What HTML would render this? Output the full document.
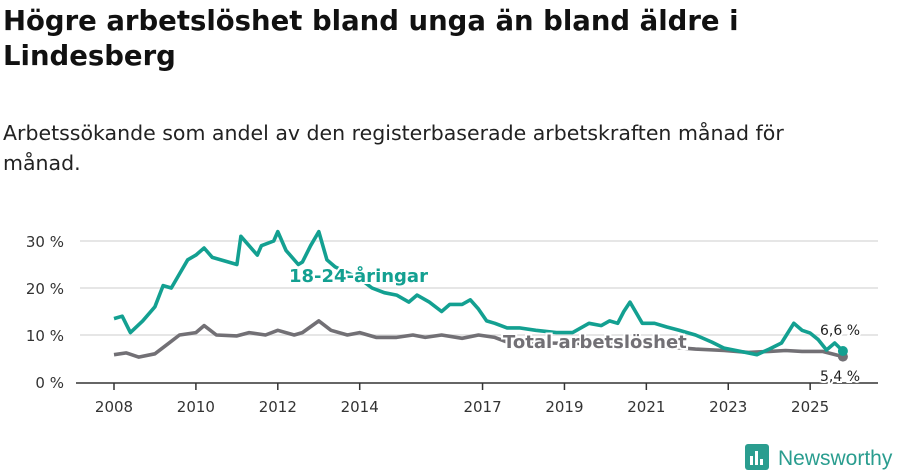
<!DOCTYPE html>
<html><head><meta charset="utf-8"><style>
body{margin:0;width:900px;height:474px;background:#fff;font-family:"Liberation Sans","DejaVu Sans",sans-serif;overflow:hidden;position:relative}
h1{position:absolute;left:3px;top:4px;margin:0;font-size:27.5px;line-height:35px;font-weight:bold;color:#111;width:760px;font-family:"DejaVu Sans",sans-serif}
p{position:absolute;left:3px;top:118px;margin:0;font-size:20.5px;line-height:30px;color:#222;width:830px;font-family:"DejaVu Sans",sans-serif}
svg{position:absolute;left:0;top:0}
</style></head><body>
<h1>Högre arbetslöshet bland unga än bland äldre i Lindesberg</h1>
<p>Arbetssökande som andel av den registerbaserade arbetskraften månad för månad.</p>
<svg id="c" width="900" height="474"></svg>
<script>
const yTicks=[0,10,20,30];
const xTicks=[2008,2010,2012,2014,2017,2019,2021,2023,2025];
const youthDates=[2008.0,2008.2,2008.4,2008.7,2009.0,2009.2,2009.4,2009.6,2009.8,2010.0,2010.2,2010.4,2010.8,2011.0,2011.1,2011.5,2011.6,2011.9,2012.0,2012.2,2012.5,2012.6,2012.8,2013.0,2013.2,2013.4,2014.0,2014.3,2014.6,2014.9,2015.2,2015.4,2015.7,2016.0,2016.2,2016.5,2016.7,2016.9,2017.1,2017.3,2017.6,2017.9,2018.3,2018.8,2019.2,2019.6,2019.9,2020.1,2020.3,2020.45,2020.6,2020.9,2021.2,2021.5,2021.8,2022.2,2022.6,2022.9,2023.3,2023.7,2024.0,2024.3,2024.6,2024.8,2025.0,2025.2,2025.4,2025.6,2025.8];
const youthValues=[13.5,14,10.5,13,16,20.5,20,23,26,27,28.5,26.5,25.5,25,31,27,29,30,32,28,25,25.5,29,32,26,24.5,22,20,19,18.5,17,18.5,17,15,16.5,16.5,17.5,15.5,13,12.5,11.5,11.5,11,10.5,10.5,12.5,12,13,12.5,15,17,12.5,12.5,11.7,11,10,8.5,7.2,6.5,5.8,7,8.3,12.5,11,10.4,9,6.8,8.3,6.6];
const totalDates=[2008.0,2008.3,2008.6,2009.0,2009.3,2009.6,2010.0,2010.2,2010.5,2011.0,2011.3,2011.7,2012.0,2012.4,2012.6,2013.0,2013.3,2013.7,2014.0,2014.4,2014.9,2015.3,2015.6,2016.0,2016.5,2016.9,2017.3,2017.6,2018.5,2019.5,2020.5,2021.5,2022.2,2022.9,2023.5,2024.0,2024.4,2024.8,2025.3,2025.8];
const totalValues=[5.8,6.2,5.3,6,8,10,10.5,12,10,9.8,10.5,10,11,10,10.5,13,11,10,10.5,9.5,9.5,10,9.5,10,9.3,10,9.5,8.5,8.3,8.2,8,7.5,7,6.7,6.3,6.5,6.7,6.5,6.5,5.4];
const NS="http://www.w3.org/2000/svg";
const svg=document.getElementById('c');
const X=d=>114+(d-2008)*40.95;
const Y=v=>382-v*4.7;
function el(t,a,p){const e=document.createElementNS(NS,t);for(const k in a)e.setAttribute(k,a[k]);(p||svg).appendChild(e);return e;}
yTicks.forEach(v=>{
  if(v>0){const g=el('line',{x1:80,x2:878,y1:Y(v),y2:Y(v),stroke:'#ddd','stroke-width':1.5});
  
  }
  const t=el('text',{x:64,y:Y(v)+6,'text-anchor':'end','font-size':15,fill:'#333','font-family':'DejaVu Sans, sans-serif'});
  t.textContent=v+' %';
  
  
});
const ax=el('line',{x1:76,x2:878,y1:383,y2:383,stroke:'#333','stroke-width':1.5});


xTicks.forEach(y=>{
  el('line',{x1:X(y),x2:X(y),y1:383,y2:390,stroke:'#333','stroke-width':1.5});
  const t=el('text',{x:X(y),y:412,'text-anchor':'middle','font-size':15,fill:'#333','font-family':'DejaVu Sans, sans-serif'});
  t.textContent=y;
  
  
});
function line(d,v,c,n){
  const p=el('path',{d:d.map((x,i)=>(i?'L':'M')+X(x).toFixed(1)+','+Y(v[i]).toFixed(1)).join(''),fill:'none',stroke:c,'stroke-width':3.6,'stroke-linejoin':'round'});
  
  
  const l=d.length-1;
  const dot=el('circle',{cx:X(d[l]),cy:Y(v[l]),r:5,fill:c});
  
  
}
line(totalDates,totalValues,'#727075','total-line');
line(youthDates,youthValues,'#13a091','youth-line');
function lab(x,y,txt,c,n,sz,w){
  const t=el('text',{x:x,y:y,'font-size':sz,'font-weight':w,fill:c,stroke:'#fff','stroke-width':4,'paint-order':'stroke','font-family':'DejaVu Sans, sans-serif'});
  t.textContent=txt;
  
  
}
lab(289,282,'18-24-åringar','#13a091','youth-series-label',18,'bold');
lab(503,348,'Total arbetslöshet','#727075','total-series-label',18,'bold');
lab(820,335,'6,6 %','#222','youth-end-value',14,'normal');
lab(820,381,'5,4 %','#222','total-end-value',14,'normal');
</script>
<svg width="900" height="474" style="pointer-events:none">
<rect x="745" y="444" width="24" height="26" rx="3" fill="#2a9d8f"/>
<rect x="750" y="456" width="3" height="9" fill="#fff"/><rect x="755" y="451" width="3" height="14" fill="#fff"/><rect x="760" y="459" width="3" height="6" fill="#fff"/>
<text x="778" y="465" font-size="21" fill="#2a9d8f" font-family="Liberation Sans, sans-serif">Newsworthy</text>
</svg>
</body></html>
